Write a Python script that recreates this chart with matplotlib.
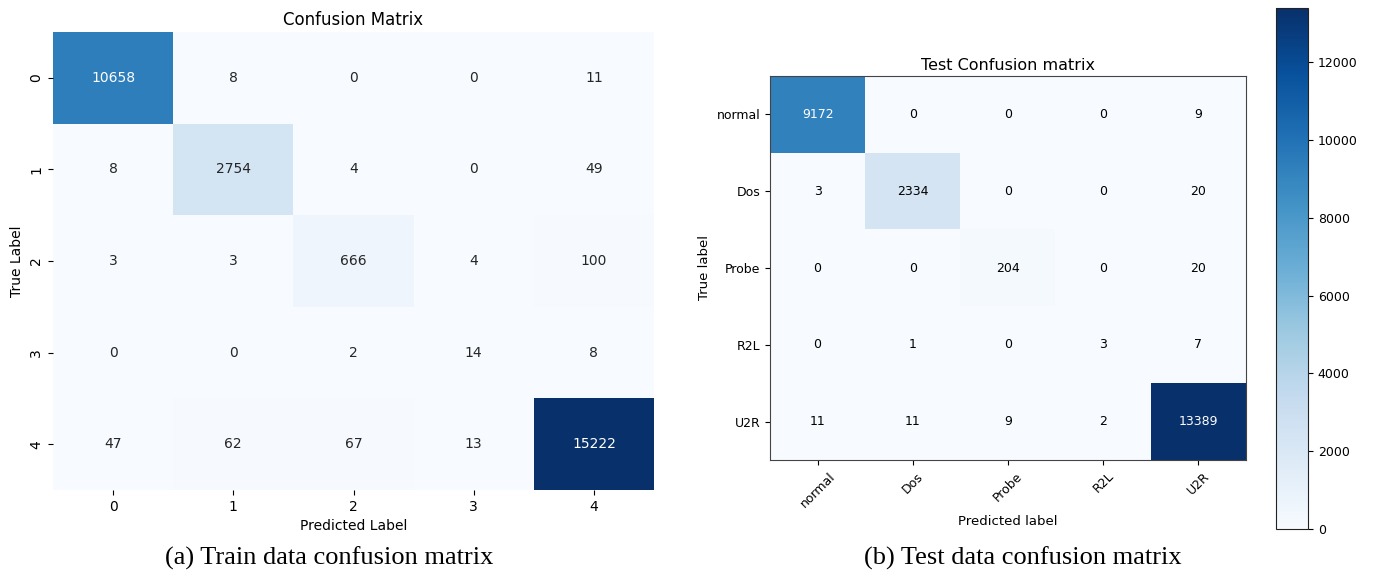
import numpy as np
import matplotlib
matplotlib.use("Agg")
import matplotlib.pyplot as plt
import seaborn as sns

# Training-set confusion matrix (classes 0..4)
train_classes = ["0", "1", "2", "3", "4"]
train_cm = np.array([
    [10658, 8, 0, 0, 11],
    [8, 2754, 4, 0, 49],
    [3, 3, 666, 4, 100],
    [0, 0, 2, 14, 8],
    [47, 62, 67, 13, 15222],
])

# Test-set confusion matrix with named attack classes
test_classes = ["normal", "Dos", "Probe", "R2L", "U2R"]
test_cm = np.array([
    [9172, 0, 0, 0, 9],
    [3, 2334, 0, 0, 20],
    [0, 0, 204, 0, 20],
    [0, 1, 0, 3, 7],
    [11, 11, 9, 2, 13389],
])

W, H = 1374, 576
fig = plt.figure(figsize=(W / 100, H / 100), dpi=100)


def px_axes(x0, y0, x1, y1):
    return fig.add_axes([x0 / W, 1 - y1 / H, (x1 - x0) / W, (y1 - y0) / H])


# ---- (a) training matrix, seaborn style ----
ax1 = px_axes(53, 32, 654, 490)
sns.heatmap(train_cm, annot=True, fmt="d", cmap="Blues", cbar=False, ax=ax1,
            annot_kws={"fontsize": 10}, square=False)
ax1.set_xticklabels(train_classes, fontsize=10)
ax1.set_yticklabels(train_classes, fontsize=10, rotation=90, va="center")
ax1.set_title("Confusion Matrix", fontsize=12, pad=5)
ax1.set_xlabel("Predicted Label", fontsize=10, labelpad=4)
ax1.set_ylabel("True Label", fontsize=10, labelpad=4)
for t in ax1.texts:
    t.set_color("white" if int(t.get_text()) > train_cm.max() / 2 else "#262626")

# ---- (b) test matrix, imshow style ----
ax2 = px_axes(770, 76, 1246, 460)
im = ax2.imshow(test_cm, cmap="Blues", interpolation="nearest", aspect="auto",
                vmin=0, vmax=test_cm.max())
ticks = np.arange(len(test_classes))
ax2.set_xticks(ticks)
ax2.set_xticklabels(test_classes, rotation=45, fontsize=9)
ax2.set_yticks(ticks)
ax2.set_yticklabels(test_classes, fontsize=9)
thresh = test_cm.max() / 2
for i in range(test_cm.shape[0]):
    for j in range(test_cm.shape[1]):
        ax2.text(j, i, format(test_cm[i, j], "d"), ha="center", va="center",
                 fontsize=9, color="white" if test_cm[i, j] > thresh else "black")
ax2.set_title("Test Confusion matrix", fontsize=11.5, pad=4)
ax2.set_xlabel("Predicted label", fontsize=9.5)
ax2.set_ylabel("True label", fontsize=9.5)
for s in ax2.spines.values():
    s.set_color("#444444")

cax = px_axes(1276, 8, 1308, 529)
cb = fig.colorbar(im, cax=cax)
cb.ax.tick_params(labelsize=9)
cb.outline.set_edgecolor("#222222")

# ---- captions ----
fig.text(329 / W, 1 - 558 / H, "(a) Train data confusion matrix",
         ha="center", va="center", fontsize=19, family="Liberation Serif")
fig.text(1023 / W, 1 - 558 / H, "(b) Test data confusion matrix",
         ha="center", va="center", fontsize=19, family="Liberation Serif")

fig.savefig("out.png", dpi=100)
